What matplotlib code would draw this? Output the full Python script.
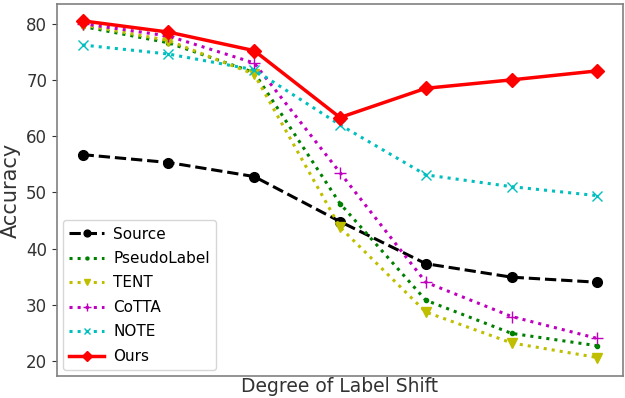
import matplotlib
matplotlib.use("Agg")
import matplotlib.pyplot as plt
import numpy as np

shift_levels = np.arange(7)

source = [56.7, 55.3, 52.8, 44.8, 37.3, 34.9, 34.0]
pseudo_label = [79.5, 76.6, 71.3, 48.0, 30.8, 24.9, 22.7]
tent = [79.8, 77.0, 71.0, 43.8, 28.7, 23.2, 20.6]
cotta = [80.0, 77.8, 73.0, 53.5, 34.0, 27.9, 24.0]
note = [76.2, 74.6, 71.8, 62.0, 53.1, 51.0, 49.4]
ours = [80.5, 78.5, 75.2, 63.3, 68.5, 70.0, 71.6]

fig, ax = plt.subplots(figsize=(6.25, 3.98), dpi=100)

ax.plot(shift_levels, source, 'k--o', lw=2.2, ms=7, label='Source')
ax.plot(shift_levels, pseudo_label, 'g:.', lw=2.2, ms=6, label='PseudoLabel')
ax.plot(shift_levels, tent, 'y:v', lw=2.2, ms=7, label='TENT')
ax.plot(shift_levels, cotta, 'm:+', lw=2.2, ms=8, label='CoTTA')
ax.plot(shift_levels, note, 'c:x', lw=2.2, ms=7, label='NOTE')
ax.plot(shift_levels, ours, 'r-D', lw=2.5, ms=7, label='Ours')

ax.set_ylim(17.3, 83.5)
ax.set_xticks([])
ax.set_yticks([20, 30, 40, 50, 60, 70, 80])
ax.tick_params(axis='y', labelsize=12, colors='#333333')
ax.set_xlabel('Degree of Label Shift', fontsize=13.5, color='#333333', labelpad=1)
ax.set_ylabel('Accuracy', fontsize=15, color='#333333')
for s in ax.spines.values():
    s.set_color('#808080')
    s.set_linewidth(1.2)

ax.legend(loc='lower left', fontsize=11, handlelength=2.3, handletextpad=0.6,
          labelspacing=0.62, markerscale=0.7, borderaxespad=0.4, framealpha=0.8)

fig.subplots_adjust(left=0.091, right=0.997, top=0.99, bottom=0.055)
plt.savefig('out.png', dpi=100)
